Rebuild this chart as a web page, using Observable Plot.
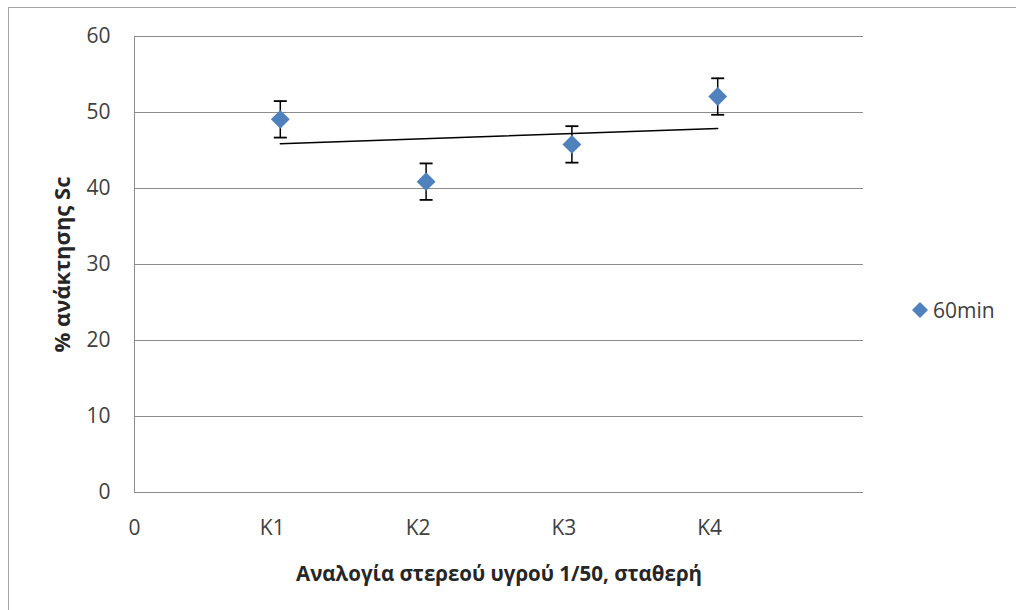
<!DOCTYPE html>
<html>
<head>
<meta charset="utf-8">
<script src="https://cdn.jsdelivr.net/npm/d3@7"></script>
<script src="https://cdn.jsdelivr.net/npm/@observablehq/plot@0.6"></script>
<style>
  html, body { margin: 0; padding: 0; background: #fff; }
  #wrap { position: relative; width: 1016px; height: 610px; overflow: hidden; font-family: "Open Sans", sans-serif; }
  #frame { position: absolute; left: 8px; top: 7px; width: 1100px; height: 700px; border: 1px solid #a6a6a6; box-sizing: border-box; }
  #chart { position: absolute; left: 0; top: 0; }
  #legend { position: absolute; left: 911px; top: 296px; display: flex; align-items: center; font-size: 21px; color: #404040; }
  #legend svg { margin-right: 4px; }
</style>
</head>
<body>
<div id="wrap">
  <div id="frame"></div>
  <div id="chart"></div>
  <div id="legend"></div>
</div>
<script>
// Sample positions and recovery (%) at 60 min, with error-bar half widths
const samples = [1, 2, 3, 4];
const recovery = [49.1, 40.9, 45.8, 52.1];
const errors = [2.4, 2.4, 2.4, 2.4];

// Linear trend line end points
const trendX = [1, 4];
const trendY = [45.9, 47.9];

// x-axis ticks and their labels
const xTickValues = [0, 1, 2, 3, 4];
const xTickLabels = ["0", "K1", "K2", "K3", "K4"];
const yTickValues = [0, 10, 20, 30, 40, 50, 60];

const seriesName = "60min";
const blue = "#4F81BD";

const points = samples.map((x, i) => ({x, y: recovery[i], e: errors[i]}));
const trend = trendX.map((x, i) => ({x, y: trendY[i]}));

// Short horizontal stroke used for error-bar caps
const capSymbol = {
  draw(context, size) {
    const w = 6.5;
    context.moveTo(-w, 0);
    context.lineTo(w, 0);
  }
};

const chart = Plot.plot({
  width: 1016,
  height: 610,
  marginLeft: 134,
  marginRight: 153,
  marginTop: 36,
  marginBottom: 118,
  style: {fontFamily: "'Open Sans', sans-serif", background: "transparent"},
  x: {domain: [0, 5]},
  y: {domain: [0, 60]},
  marks: [
    Plot.gridY(yTickValues, {stroke: "#8c8c8c", strokeOpacity: 1, strokeWidth: 1}),
    Plot.ruleX([0], {stroke: "#8c8c8c", strokeWidth: 1}),
    Plot.axisY({
      ticks: yTickValues,
      tickSize: 0,
      tickPadding: 24,
      fontSize: 21,
      color: "#404040",
      label: "% ανάκτησης Sc",
      labelAnchor: "center",
      labelArrow: "none",
      labelOffset: 80
    }),
    Plot.axisX({
      ticks: xTickValues,
      tickFormat: (d, i) => xTickLabels[i],
      tickSize: 0,
      tickPadding: 28,
      fontSize: 21,
      color: "#404040",
      label: "Αναλογία στερεού υγρού 1/50, σταθερή",
      labelAnchor: "center",
      labelArrow: "none",
      labelOffset: 88
    }),
    // error bars
    Plot.ruleX(points, {x: "x", y1: d => d.y - d.e, y2: d => d.y + d.e, stroke: "black", strokeWidth: 1.5}),
    Plot.dot(points, {x: "x", y: d => d.y + d.e, symbol: capSymbol, stroke: "black", strokeWidth: 1.8, r: 5}),
    Plot.dot(points, {x: "x", y: d => d.y - d.e, symbol: capSymbol, stroke: "black", strokeWidth: 1.8, r: 5}),
    // trend line
    Plot.line(trend, {x: "x", y: "y", stroke: "black", strokeWidth: 1.5}),
    // data markers
    Plot.dot(points, {x: "x", y: "y", symbol: "diamond2", r: 8.5, fill: blue, stroke: "none"})
  ]
});

// bold axis titles
d3.select(chart).selectAll("[aria-label='y-axis label'] text")
  .style("font-weight", "bold").style("font-size", "22px");
d3.select(chart).selectAll("[aria-label='x-axis label'] text")
  .style("font-weight", "bold").style("font-size", "20.5px");
d3.select(chart).selectAll("[aria-label='y-axis label'], [aria-label='x-axis label']")
  .attr("fill", "#262626");
// the category labels sit slightly left of their positions
d3.select(chart).selectAll("[aria-label='x-axis tick label'] text")
  .filter((d, i) => i > 0)
  .attr("dx", -8);

document.getElementById("chart").appendChild(chart);

// legend
const legend = d3.select("#legend");
const sw = legend.append("svg").attr("width", 18).attr("height", 18);
sw.append("path").attr("d", "M9,1L17,9L9,17L1,9Z").attr("fill", blue);
legend.append("span").text(seriesName);
</script>
</body>
</html>
